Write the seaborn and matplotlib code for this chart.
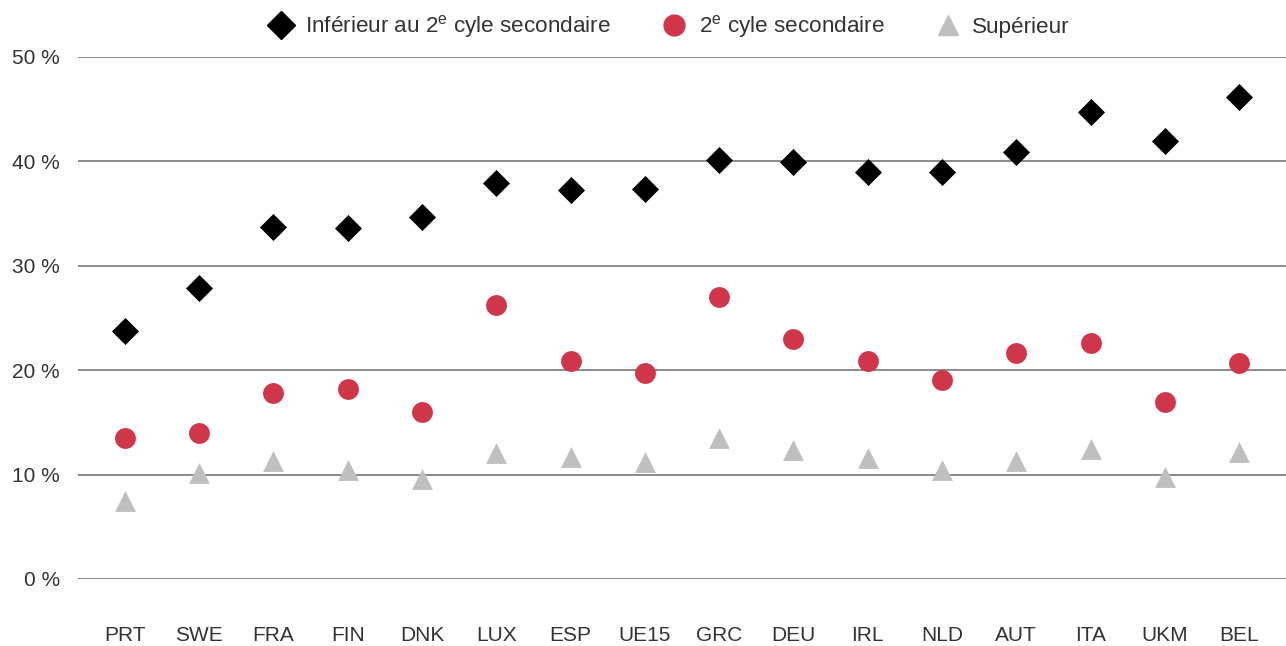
import matplotlib
matplotlib.use("Agg")
import matplotlib.pyplot as plt
import seaborn as sns
import pandas as pd
from matplotlib.lines import Line2D

countries = ["PRT", "SWE", "FRA", "FIN", "DNK", "LUX", "ESP", "UE15",
             "GRC", "DEU", "IRL", "NLD", "AUT", "ITA", "UKM", "BEL"]
inferieur = [23.8, 27.9, 33.7, 33.6, 34.7, 37.9, 37.3, 37.4,
             40.1, 39.9, 39.0, 39.0, 40.9, 44.7, 42.0, 46.2]
second_cycle = [13.5, 14.0, 17.8, 18.2, 16.0, 26.2, 20.9, 19.7,
                27.0, 23.0, 20.9, 19.1, 21.6, 22.6, 17.0, 20.7]
superieur = [7.5, 10.2, 11.3, 10.4, 9.6, 12.1, 11.7, 11.2,
             13.5, 12.4, 11.6, 10.4, 11.3, 12.5, 9.8, 12.2]
y_ticks = [0, 10, 20, 30, 40, 50]
y_labels = ["0 %", "10 %", "20 %", "30 %", "40 %", "50 %"]

s1 = "Inférieur au 2$^{\\mathrm{e}}$ cyle secondaire"
s2 = "2$^{\\mathrm{e}}$ cyle secondaire"
s3 = "Supérieur"

sns.set_theme(style="white")
plt.rcParams["font.family"] = ["Liberation Sans", "DejaVu Sans"]
plt.rcParams["mathtext.fontset"] = "custom"
plt.rcParams["mathtext.rm"] = "Liberation Sans"
plt.rcParams["mathtext.it"] = "Liberation Sans"

df = pd.concat([
    pd.DataFrame({"pays": countries, "val": inferieur, "serie": s1}),
    pd.DataFrame({"pays": countries, "val": second_cycle, "serie": s2}),
    pd.DataFrame({"pays": countries, "val": superieur, "serie": s3}),
])
df["x"] = df["pays"].map({c: i for i, c in enumerate(countries)})

fig = plt.figure(figsize=(12.86, 6.46), dpi=100)
ax = fig.add_axes([78 / 1286, 1 - 579 / 646, 1 - 78 / 1286, (579 - 57) / 646])

palette = {s1: "#000000", s2: "#D0364A", s3: "#BFBFBF"}
markers = {s1: "D", s2: "o", s3: "^"}
sizes = {s1: 190, s2: 225, s3: 225}

for name in [s3, s2, s1]:
    sub = df[df["serie"] == name]
    sns.scatterplot(data=sub, x="x", y="val", ax=ax, color=palette[name],
                    marker=markers[name], s=sizes[name], linewidth=0,
                    zorder=3, legend=False)

for t in y_ticks:
    ax.axhline(t, color="#6b6b6b", linewidth=1.1, zorder=1)

ax.set_xlim(-0.63, len(countries) - 1 + 0.63)
ax.set_ylim(0, 50)
ax.set_yticks(y_ticks)
ax.set_yticklabels(y_labels)
ax.set_xticks(range(len(countries)))
ax.set_xticklabels(countries)
ax.tick_params(axis="x", length=0, pad=34, labelsize=15, labelcolor="#333333")
ax.tick_params(axis="y", length=0, pad=13, labelsize=15, labelcolor="#333333")
ax.set_xlabel("")
ax.set_ylabel("")
sns.despine(ax=ax, left=True, bottom=True)

handles = [
    Line2D([], [], linestyle="", marker="D", color="#000000", markersize=14),
    Line2D([], [], linestyle="", marker="o", color="#D0364A", markersize=15),
    Line2D([], [], linestyle="", marker="^", color="#BFBFBF", markersize=15),
]
fig.legend(handles, [s1, s2, s3], loc="center", bbox_to_anchor=(664 / 1286, 1 - 27 / 646),
           ncol=3, frameon=False, fontsize=16.2, handletextpad=0.1, columnspacing=1.8,
           labelcolor="#333333")

fig.savefig("out.png", dpi=100)
